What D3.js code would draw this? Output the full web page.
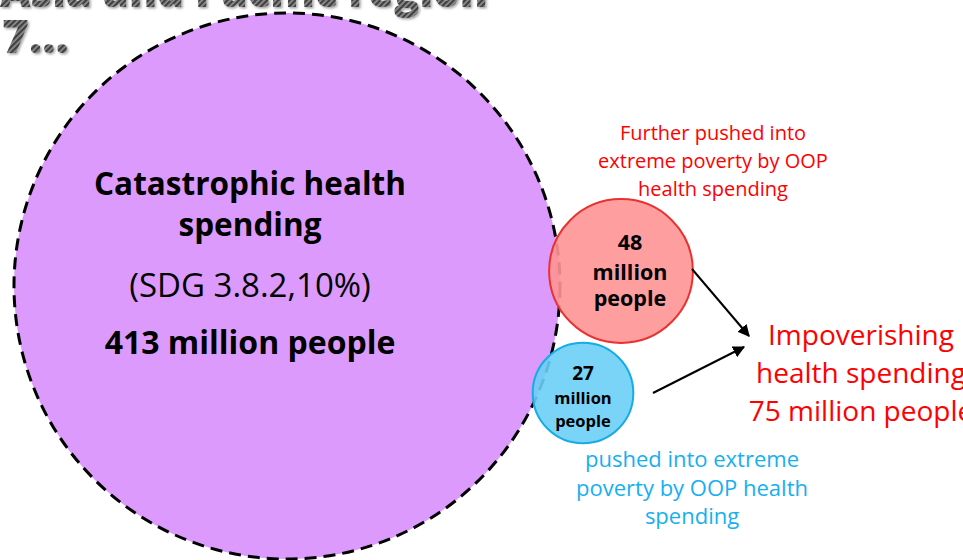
<!DOCTYPE html>
<html>
<head>
<meta charset="utf-8">
<script src="https://cdn.jsdelivr.net/npm/d3@7/dist/d3.min.js"></script>
<style>
  html, body { margin: 0; padding: 0; background: #ffffff; }
  svg { display: block; font-family: "Open Sans", Lato, sans-serif; }
</style>
</head>
<body>
<svg id="chart" width="963" height="560"></svg>
<script>
// Millions of people affected by out-of-pocket (OOP) health spending
const groups = ["catastrophic", "further", "pushed"];
const millions = [413, 48, 27];
const fills = ["#dc9bfc", "#ff9494", "#6ccff6"];
const strokes = ["#000000", "#e8322f", "#16ace6"];

const impoverishingTotal = millions[1] + millions[2]; // 75

const titleLines = ["Asia and Pacific region", "7..."];
const bigLines = ["Catastrophic health", "spending", "(SDG 3.8.2,10%)", `${millions[0]} million people`];
const redInner = [`${millions[1]}`, "million", "people"];
const blueInner = [`${millions[2]}`, "million", "people"];
const redCaption = ["Further pushed into", "extreme poverty by OOP", "health spending"];
const blueCaption = ["pushed into extreme", "poverty by OOP health", "spending"];
const impLines = ["Impoverishing", "health spending", `${impoverishingTotal} million people`];

const svg = d3.select("#chart");
const defs = svg.append("defs");

// Hatched grey fill for the heading
const hatch = defs.append("pattern")
  .attr("id", "hatch").attr("patternUnits", "userSpaceOnUse")
  .attr("width", 4).attr("height", 4)
  .attr("patternTransform", "rotate(45)");
hatch.append("rect").attr("width", 4).attr("height", 4).attr("fill", "#8e8e8e");
hatch.append("rect").attr("width", 2.2).attr("height", 4).attr("fill", "#3f3f3f");

const shadow = defs.append("filter").attr("id", "shadow")
  .attr("x", "-10%").attr("y", "-10%").attr("width", "130%").attr("height", "130%");
shadow.append("feDropShadow").attr("dx", 1.5).attr("dy", 1.5)
  .attr("stdDeviation", 1.2).attr("flood-color", "#000").attr("flood-opacity", 0.35);

defs.append("marker")
  .attr("id", "arrow").attr("viewBox", "0 0 10 10")
  .attr("refX", 9).attr("refY", 5)
  .attr("markerWidth", 6).attr("markerHeight", 6)
  .attr("orient", "auto-start-reverse")
  .append("path").attr("d", "M0,0 L10,5 L0,10 z").attr("fill", "#000");

// Heading (partly above the top edge)
const title = svg.append("text").attr("filter", "url(#shadow)")
  .attr("fill", "url(#hatch)").attr("font-weight", 800).attr("font-size", 46);
title.append("tspan").attr("x", 0).attr("y", 7)
  .attr("textLength", 488).attr("lengthAdjust", "spacingAndGlyphs")
  .text(titleLines[0]);
title.append("tspan").attr("x", 2).attr("y", 53).text(titleLines[1]);

// Circle radius grows with the number of people
const r = d3.scalePow().exponent(0.62)
  .domain([0, d3.max(millions)]).range([0, 273]);

const centers = [[287, 286], [621, 271], [583, 393]];

const nodes = groups.map((g, i) => ({
  key: g, value: millions[i], cx: centers[i][0], cy: centers[i][1],
  fill: fills[i], stroke: strokes[i]
}));

svg.append("g").selectAll("circle")
  .data(nodes)
  .join("circle")
  .attr("cx", d => d.cx).attr("cy", d => d.cy)
  .attr("r", d => r(d.value))
  .attr("fill", d => d.fill)
  .attr("fill-opacity", (d, i) => i === 0 ? 1 : 0.9)
  .attr("stroke", d => d.stroke)
  .attr("stroke-width", (d, i) => i === 0 ? 3 : 2)
  .attr("stroke-dasharray", (d, i) => i === 0 ? "12 7" : null);

function lines(g, arr, x, ys, opts) {
  g.selectAll(null).data(arr).join("text")
    .attr("x", x).attr("y", (d, i) => ys[i])
    .attr("text-anchor", "middle")
    .attr("fill", opts.color)
    .attr("font-size", (d, i) => Array.isArray(opts.size) ? opts.size[i] : opts.size)
    .attr("font-weight", (d, i) => Array.isArray(opts.weight) ? opts.weight[i] : opts.weight)
    .text(d => d);
}

lines(svg.append("g"), bigLines, 250, [195, 236, 297, 354],
  { color: "#000", size: [31.5, 31.5, 33, 32], weight: [700, 700, 400, 700] });

lines(svg.append("g"), redInner, 630, [250, 280, 306],
  { color: "#000", size: 21.5, weight: 700 });

lines(svg.append("g"), blueInner, 583, [380, 404, 427],
  { color: "#000", size: [19, 16.5, 16.5], weight: 700 });

lines(svg.append("g"), redCaption, 713, [140, 168, 196],
  { color: "#ff0000", size: 20, weight: 400 });

lines(svg.append("g"), blueCaption, 692, [467, 496, 524],
  { color: "#16b0ef", size: 22, weight: 400 });

lines(svg.append("g"), impLines, 861, [345, 383, 421],
  { color: "#ff0000", size: 28, weight: 400 });

// Arrows from the two small circles to the impoverishing total
const arrows = [[[692, 269], [749, 336]], [[653, 393], [744, 347]]];
svg.append("g").selectAll("line").data(arrows).join("line")
  .attr("x1", d => d[0][0]).attr("y1", d => d[0][1])
  .attr("x2", d => d[1][0]).attr("y2", d => d[1][1])
  .attr("stroke", "#000").attr("stroke-width", 2)
  .attr("marker-end", "url(#arrow)");
</script>
</body>
</html>
